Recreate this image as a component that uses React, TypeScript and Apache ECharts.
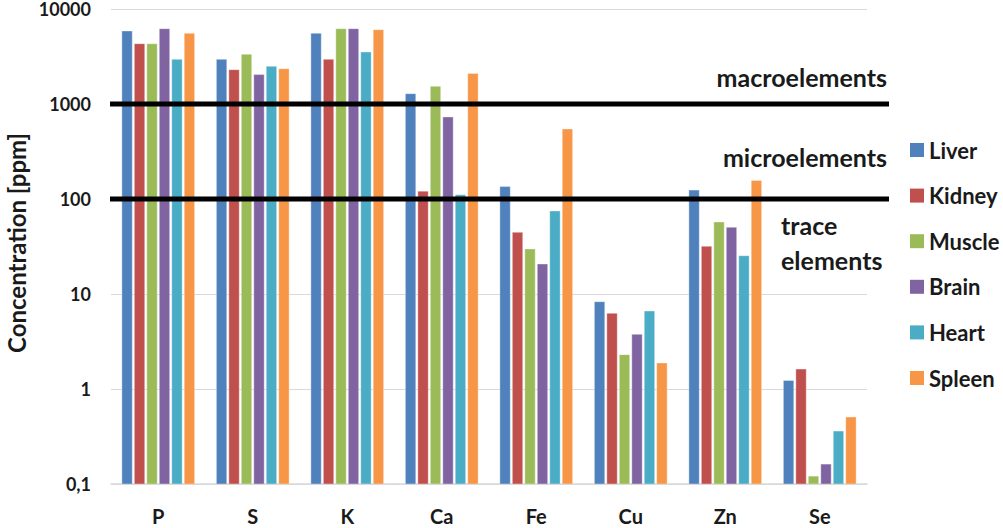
import React, { useEffect, useRef } from "react";
import * as echarts from "echarts";

const categories = ["P", "S", "K", "Ca", "Fe", "Cu", "Zn", "Se"];
const seriesNames = ["Liver", "Kidney", "Muscle", "Brain", "Heart", "Spleen"];
const colors = ["#4f81bd", "#c0504d", "#9bbb59", "#8064a2", "#4bacc6", "#f79646"];

const liver = [5870, 2950, 5550, 1285, 135, 8.3, 124, 1.23];
const kidney = [4310, 2300, 2950, 121, 44.6, 6.26, 31.8, 1.62];
const muscle = [4310, 3330, 6210, 1535, 29.8, 2.3, 57.3, 0.121];
const brain = [6210, 2040, 6210, 730, 20.7, 3.76, 50.4, 0.162];
const heart = [2950, 2490, 3530, 111, 74.8, 6.62, 25.3, 0.361];
const spleen = [5550, 2350, 6060, 2100, 546, 1.88, 157, 0.507];

const seriesValues = [liver, kidney, muscle, brain, heart, spleen];
const thresholds = [1000, 100];
const yMin = 0.1;
const yMax = 10000;

const FONT = "Lato, 'Open Sans', sans-serif";
const TEXT = "#1a1a1a";

export default function App() {
  const ref = useRef<HTMLDivElement>(null);
  useEffect(() => {
    const chart = echarts.init(ref.current!, undefined, { renderer: "svg" });
    const nSeries = seriesNames.length;
    chart.setOption({
      animation: false,
      grid: { left: 111, top: 9, right: 136, bottom: 44, containLabel: false },
      legend: {
        orient: "vertical",
        left: 905,
        top: 134,
        itemWidth: 14,
        itemHeight: 14,
        itemGap: 23.6,
        icon: "rect",
        textStyle: { fontFamily: FONT, fontSize: 22, fontWeight: "bold", color: TEXT },
        data: seriesNames,
      },
      xAxis: {
        type: "category",
        data: categories,
        axisTick: { show: false },
        axisLine: { lineStyle: { color: "#d9d9d9", width: 1.5 } },
        axisLabel: { fontFamily: FONT, fontSize: 20, fontWeight: "bold", color: TEXT, margin: 22 },
      },
      yAxis: {
        type: "log",
        logBase: 10,
        min: yMin,
        max: yMax,
        axisLine: { show: false },
        axisTick: { show: false },
        splitLine: { lineStyle: { color: "#d9d9d9", width: 1 } },
        axisLabel: {
          fontFamily: FONT,
          fontSize: 18,
          lineHeight: 16,
          fontWeight: "bold",
          color: TEXT,
          margin: 20,
          formatter: (v: number) => String(Number(v.toPrecision(6))).replace(".", ","),
        },
      },
      series: seriesNames.map((name, i) => ({
        name,
        type: "custom",
        itemStyle: { color: colors[i] },
        encode: { x: 0, y: 1 },
        data: seriesValues[i].map((v, j) => [j, v]),
        clip: true,
        renderItem: (params: any, api: any) => {
          const ci = api.value(0);
          const v = api.value(1);
          const top = api.coord([ci, v]);
          const base = api.coord([ci, yMin]);
          const band = params.coordSys.width / categories.length;
          const groupW = band * 0.77;
          const bw = groupW / (nSeries + (nSeries - 1) * 0.2);
          const x = top[0] - groupW / 2 + i * bw * 1.2;
          return {
            type: "rect",
            shape: { x, y: top[1], width: bw, height: base[1] - top[1] },
            style: { fill: colors[i], stroke: "rgba(255,255,255,0.6)", lineWidth: 0.6 },
          };
        },
      })),
    });

    const x0 = 110;
    const x1 = 889;
    const ys = thresholds.map((t) => chart.convertToPixel({ yAxisIndex: 0 }, t) as number);
    const textStyle = { fontFamily: FONT, fontSize: 25, fontWeight: "bold", fill: TEXT };
    chart.setOption({
      graphic: [
        ...ys.map((y) => ({
          type: "line",
          shape: { x1: x0, y1: y, x2: x1, y2: y },
          style: { stroke: "#000", lineWidth: 5 },
          z: 100,
        })),
        {
          type: "text",
          x: 887,
          y: ys[0] - 27,
          style: { ...textStyle, text: "macroelements", align: "right", verticalAlign: "middle" },
          z: 100,
        },
        {
          type: "text",
          x: 887,
          y: ys[0] + 53,
          style: { ...textStyle, text: "microelements", align: "right", verticalAlign: "middle" },
          z: 100,
        },
        {
          type: "text",
          x: 781,
          y: ys[1] + 26,
          style: { ...textStyle, text: "trace", align: "left", verticalAlign: "middle" },
          z: 100,
        },
        {
          type: "text",
          x: 781,
          y: ys[1] + 61,
          style: { ...textStyle, text: "elements", align: "left", verticalAlign: "middle" },
          z: 100,
        },
        {
          type: "text",
          x: 16,
          y: 243,
          rotation: Math.PI / 2,
          style: {
            fontFamily: FONT,
            fontSize: 24,
            fontWeight: "bold",
            fill: TEXT,
            text: "Concentration [ppm]",
            align: "center",
            verticalAlign: "middle",
          },
        },
      ],
    });
    return () => chart.dispose();
  }, []);
  return (
    <div
      ref={ref}
      style={{ position: "fixed", left: 0, top: 0, width: 1003, height: 528, background: "#fff" }}
    />
  );
}
